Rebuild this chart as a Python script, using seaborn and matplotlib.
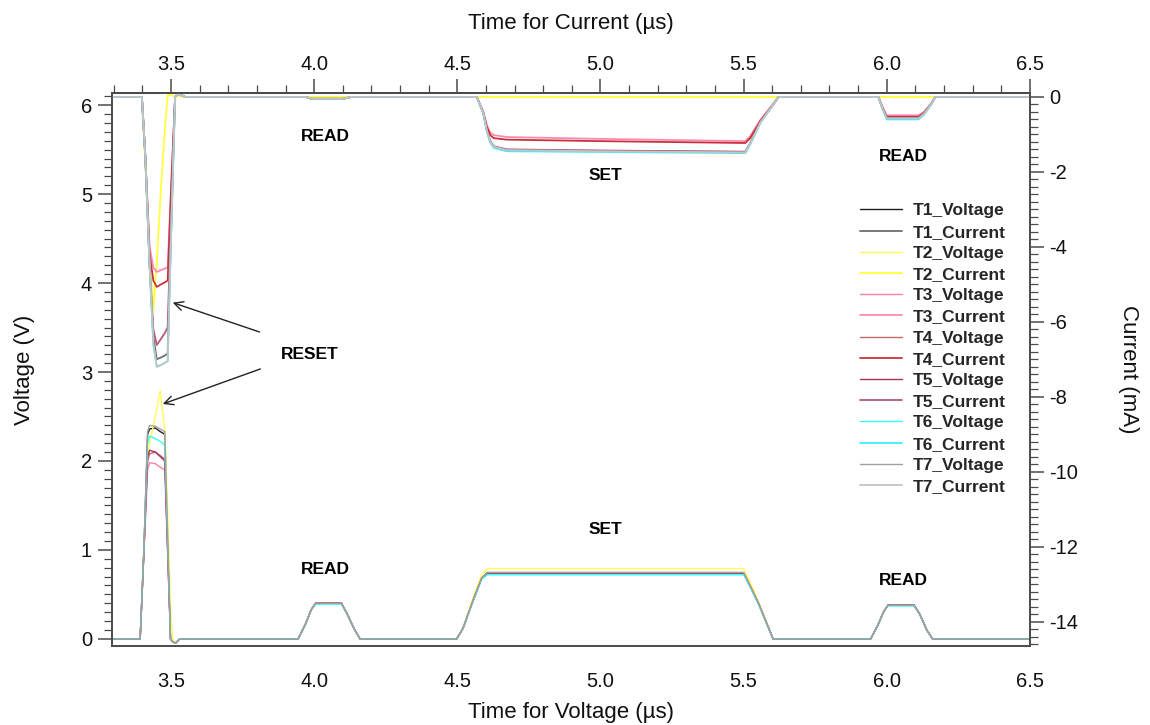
import numpy as np
import pandas as pd
import matplotlib
matplotlib.use("Agg")
import matplotlib.pyplot as plt
from matplotlib.ticker import MultipleLocator
import seaborn as sns

# ---------------- data ----------------
# Voltage waveforms (V) on a shared time base (us)
time_v = [3.29, 3.392, 3.405, 3.418, 3.425, 3.445, 3.462, 3.478, 3.488, 3.498, 3.505, 3.515, 3.53,
          3.944, 3.97, 3.99, 4.005, 4.095, 4.115, 4.14, 4.16,
          4.498, 4.52, 4.556, 4.585, 4.605, 5.0, 5.50, 5.525, 5.552, 5.603,
          5.944, 5.97, 5.99, 6.005, 6.095, 6.115, 6.14, 6.16, 6.5]

T1_voltage = [0, 0, 1.0, 2.30, 2.36, 2.37, 2.33, 2.30, 1.15, 0, -0.03, -0.05, 0,
              0, 0.17, 0.33, 0.40, 0.40, 0.28, 0.11, 0,
              0, 0.12, 0.44, 0.68, 0.745, 0.745, 0.745, 0.58, 0.40, 0,
              0, 0.16, 0.31, 0.38, 0.38, 0.28, 0.10, 0, 0]
T2_voltage = [0, 0, 1.05, 2.05, 2.20, 2.50, 2.79, 2.35, 1.45, 0.35, 0, -0.04, 0,
              0, 0.17, 0.33, 0.40, 0.40, 0.28, 0.11, 0,
              0, 0.13, 0.47, 0.72, 0.79, 0.79, 0.79, 0.62, 0.42, 0,
              0, 0.16, 0.31, 0.38, 0.38, 0.28, 0.10, 0, 0]
T3_voltage = [0, 0, 0.95, 1.90, 1.98, 1.97, 1.93, 1.90, 0.95, 0, -0.03, -0.05, 0,
              0, 0.17, 0.33, 0.40, 0.40, 0.28, 0.11, 0,
              0, 0.12, 0.44, 0.68, 0.74, 0.74, 0.74, 0.58, 0.40, 0,
              0, 0.16, 0.31, 0.38, 0.38, 0.28, 0.10, 0, 0]
T4_voltage = [0, 0, 0.98, 2.00, 2.08, 2.10, 2.06, 2.02, 1.0, 0, -0.03, -0.05, 0,
              0, 0.17, 0.33, 0.40, 0.40, 0.28, 0.11, 0,
              0, 0.12, 0.44, 0.68, 0.74, 0.74, 0.74, 0.58, 0.40, 0,
              0, 0.16, 0.31, 0.38, 0.38, 0.28, 0.10, 0, 0]
T5_voltage = [0, 0, 0.98, 2.05, 2.12, 2.10, 2.05, 2.00, 1.0, 0, -0.03, -0.05, 0,
              0, 0.17, 0.33, 0.40, 0.40, 0.28, 0.11, 0,
              0, 0.12, 0.44, 0.68, 0.735, 0.735, 0.735, 0.58, 0.40, 0,
              0, 0.16, 0.31, 0.38, 0.38, 0.28, 0.10, 0, 0]
T6_voltage = [0, 0, 1.0, 2.20, 2.28, 2.25, 2.22, 2.18, 1.1, 0, -0.03, -0.05, 0,
              0, 0.17, 0.33, 0.39, 0.39, 0.28, 0.11, 0,
              0, 0.12, 0.43, 0.67, 0.72, 0.72, 0.72, 0.57, 0.39, 0,
              0, 0.16, 0.31, 0.37, 0.37, 0.28, 0.10, 0, 0]
T7_voltage = [0, 0, 1.0, 2.33, 2.40, 2.39, 2.36, 2.33, 1.17, 0, -0.03, -0.05, 0,
              0, 0.17, 0.33, 0.40, 0.40, 0.28, 0.11, 0,
              0, 0.12, 0.44, 0.68, 0.745, 0.745, 0.745, 0.58, 0.40, 0,
              0, 0.16, 0.31, 0.38, 0.38, 0.28, 0.10, 0, 0]

# Current waveforms (mA) on a shared time base (us)
time_i = [3.29, 3.398, 3.41, 3.425, 3.438, 3.45, 3.465, 3.478, 3.488, 3.50, 3.514, 3.524, 3.549,
          3.97, 3.99, 4.10, 4.13,
          4.568, 4.591, 4.603, 4.615, 4.627, 4.673, 5.0, 5.506, 5.523, 5.558, 5.604, 5.622,
          5.971, 5.985, 6.0, 6.111, 6.13, 6.155, 6.17, 6.5]

T1_current = [0, 0, -1.6, -4.5, -6.4, -7.0, -6.95, -6.9, -6.85, -3.6, 0, 0.08, 0,
              0, -0.05, -0.05, 0,
              0, -0.44, -0.89, -1.18, -1.32, -1.41, -1.44, -1.47, -1.24, -0.68, -0.2, 0,
              0, -0.3, -0.56, -0.56, -0.45, -0.2, 0, 0]
T2_current = [0, 0, -1.8, -4.2, -5.7, -4.4, -2.4, -0.9, 0.05, 0.05, 0, 0.03, 0,
              0, 0, 0, 0,
              0, 0, 0, 0, 0, 0, 0, 0, 0, 0, 0, 0,
              0, 0, 0, 0, 0, 0, 0, 0]
T3_current = [0, 0, -1.6, -4.0, -4.55, -4.67, -4.62, -4.58, -4.55, -2.4, 0, 0.08, 0,
              0, -0.05, -0.05, 0,
              0, -0.40, -0.75, -0.95, -1.02, -1.07, -1.12, -1.18, -1.05, -0.62, -0.18, 0,
              0, -0.26, -0.49, -0.49, -0.40, -0.18, 0, 0]
T4_current = [0, 0, -1.6, -4.2, -4.9, -5.07, -5.0, -4.95, -4.9, -2.5, 0, 0.08, 0,
              0, -0.05, -0.05, 0,
              0, -0.42, -0.80, -1.02, -1.10, -1.14, -1.18, -1.23, -1.10, -0.65, -0.19, 0,
              0, -0.28, -0.53, -0.53, -0.43, -0.19, 0, 0]
T5_current = [0, 0, -1.6, -4.5, -6.2, -6.62, -6.45, -6.3, -6.15, -3.2, 0, 0.1, 0,
              0, -0.05, -0.05, 0,
              0, -0.44, -0.89, -1.18, -1.32, -1.40, -1.43, -1.46, -1.24, -0.68, -0.2, 0,
              0, -0.3, -0.56, -0.56, -0.45, -0.2, 0, 0]
T6_current = [0, 0, -1.6, -4.5, -6.6, -7.2, -7.15, -7.1, -7.05, -3.7, 0, 0.08, 0,
              0, -0.05, -0.05, 0,
              0, -0.45, -0.92, -1.22, -1.36, -1.45, -1.47, -1.50, -1.27, -0.70, -0.2, 0,
              0, -0.32, -0.60, -0.60, -0.48, -0.21, 0, 0]
T7_current = [0, 0, -1.6, -4.5, -6.6, -7.2, -7.15, -7.1, -7.05, -3.7, 0, 0.08, 0,
              0, -0.05, -0.05, 0,
              0, -0.44, -0.90, -1.19, -1.33, -1.42, -1.45, -1.48, -1.25, -0.69, -0.2, 0,
              0, -0.3, -0.57, -0.57, -0.46, -0.2, 0, 0]

traces = ["T1", "T2", "T3", "T4", "T5", "T6", "T7"]
voltage_series = [T1_voltage, T2_voltage, T3_voltage, T4_voltage, T5_voltage, T6_voltage, T7_voltage]
current_series = [T1_current, T2_current, T3_current, T4_current, T5_current, T6_current, T7_current]

voltage_colors = ["#1e1e1e", "#ffff55", "#ff7fa6", "#c06a6a", "#a8305c", "#33ffff", "#a0a0a0"]
current_colors = ["#6e6e6e", "#ffff3c", "#ff8ab0", "#c8323c", "#b45a78", "#3ceeff", "#c4c4c4"]

xticks = [3.5, 4.0, 4.5, 5.0, 5.5, 6.0, 6.5]

# ---------------- style ----------------
sns.set_theme(style="white")
plt.rcParams["font.family"] = ["Liberation Sans", "DejaVu Sans"]
plt.rcParams["axes.unicode_minus"] = False

fig = plt.figure(figsize=(11.5, 7.25), dpi=100)
ax = fig.add_axes([0.097, 0.109, 0.7985, 0.7625])
ax2 = ax.twinx()

frame_col = "#4a4a4a"

# ---------------- voltage traces ----------------
df_v = pd.DataFrame({
    "time": np.tile(time_v, len(traces)),
    "value": np.concatenate(voltage_series),
    "trace": np.repeat([t + "_Voltage" for t in traces], len(time_v)),
})
for name, col in zip(traces, voltage_colors):
    sub = df_v[df_v["trace"] == name + "_Voltage"]
    sns.lineplot(data=sub, x="time", y="value", ax=ax, color=col, lw=1.0,
                 sort=False, estimator=None, legend=False, label=name + "_Voltage")

# ---------------- current traces ----------------
df_i = pd.DataFrame({
    "time": np.tile(time_i, len(traces)),
    "value": np.concatenate(current_series),
    "trace": np.repeat([t + "_Current" for t in traces], len(time_i)),
})
for name, col in zip(traces, current_colors):
    sub = df_i[df_i["trace"] == name + "_Current"]
    sns.lineplot(data=sub, x="time", y="value", ax=ax2, color=col, lw=1.3,
                 sort=False, estimator=None, legend=False, label=name + "_Current")

# ---------------- axes ----------------
ax.set_xlim(3.292, 6.5)
ax.set_ylim(-0.08, 6.135)
ax2.set_ylim(-14.65, 0.1)

ax.set_xticks(xticks)
ax.xaxis.set_minor_locator(MultipleLocator(0.1))
ax.yaxis.set_major_locator(MultipleLocator(1))
ax.yaxis.set_minor_locator(MultipleLocator(0.1))
ax2.yaxis.set_major_locator(MultipleLocator(2))
ax2.yaxis.set_minor_locator(MultipleLocator(0.2))

top = ax.secondary_xaxis("top")
top.set_xticks(xticks)
top.xaxis.set_minor_locator(MultipleLocator(0.1))

for a in (ax, ax2, top):
    for sp in a.spines.values():
        sp.set_color(frame_col)
        sp.set_linewidth(1.2)

tick_kw = dict(direction="out", colors=frame_col, labelcolor="#111111", labelsize=14.5)
minor_kw = dict(which="minor", length=6, width=0.9, direction="out", colors=frame_col)
ax.tick_params(axis="both", which="major", length=10, width=1.1, pad=4, **tick_kw)
ax.tick_params(axis="both", **minor_kw)
ax.tick_params(top=False, right=False, which="both")
ax.tick_params(axis="x", which="major", pad=9)
ax2.tick_params(axis="y", which="major", length=10, width=1.1, pad=4, **tick_kw)
ax2.tick_params(axis="y", **minor_kw)
top.tick_params(axis="x", which="major", length=10, width=1.1, pad=3.5, **tick_kw)
top.tick_params(axis="x", **minor_kw)

label_kw = dict(fontsize=16, color="#111111")
ax.set_xlabel("Time for Voltage (\u00b5s)", labelpad=8, **label_kw)
top.set_xlabel("Time for Current (\u00b5s)", labelpad=19, **label_kw)
ax.set_ylabel("Voltage (V)", labelpad=33, **label_kw)
ax2.set_ylabel("Current (mA)", rotation=270, labelpad=44, **label_kw)

# ---------------- annotations ----------------
note_kw = dict(fontsize=12.5, fontweight="bold", color="black", ha="center", va="center")
ax.text(4.038, 5.65, "READ", **note_kw)
ax.text(6.058, 5.42, "READ", **note_kw)
ax.text(5.016, 5.21, "SET", **note_kw)
ax.text(4.038, 0.775, "READ", **note_kw)
ax.text(6.058, 0.66, "READ", **note_kw)
ax.text(5.016, 1.225, "SET", **note_kw)
ax.text(3.986, 3.20, "RESET", **note_kw)

arrow_kw = dict(arrowstyle="->", color="#222222", lw=1.0, mutation_scale=16)
ax.annotate("", xy=(3.4965, 3.79), xytext=(3.818, 3.44), arrowprops=arrow_kw)
ax.annotate("", xy=(3.462, 2.63), xytext=(3.821, 3.045), arrowprops=arrow_kw)

# ---------------- legend ----------------
h1, l1 = ax.get_legend_handles_labels()
h2, l2 = ax2.get_legend_handles_labels()
handles, labels = [], []
for i in range(len(traces)):
    handles += [h1[i], h2[i]]
    labels += [l1[i], l2[i]]
ax2.legend(handles, labels, loc="upper left", bbox_to_anchor=(0.748, 0.7196),
           bbox_transform=fig.transFigure, frameon=False,
           prop={"weight": "bold", "size": 12.5}, handlelength=2.42, handletextpad=0.58,
           labelspacing=0.348, borderpad=0, borderaxespad=0)

fig.savefig("out.png", dpi=100, facecolor="white")
